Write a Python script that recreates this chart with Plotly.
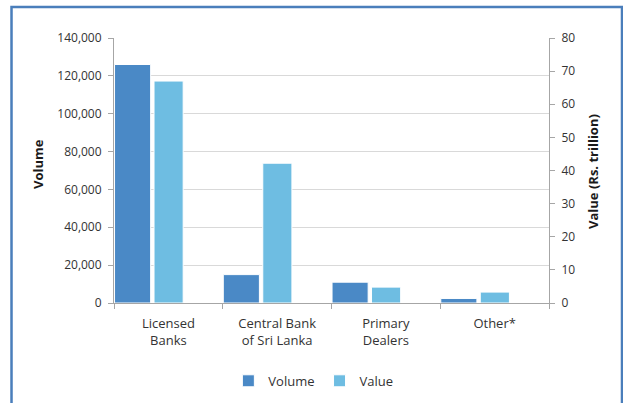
import plotly.graph_objects as go

# Participants in the settlement system
categories = ["Licensed<br>Banks", "Central Bank<br>of Sri Lanka", "Primary<br>Dealers", "Other*"]
volume = [126000, 15000, 11000, 2400]          # number of transactions
value_rs_trillion = [67.0, 42.2, 4.8, 3.3]     # Rs. trillion

volume_ticks = [0, 20000, 40000, 60000, 80000, 100000, 120000, 140000]
value_ticks = [0, 10, 20, 30, 40, 50, 60, 70, 80]

VOL_COLOR = "#4a89c6"
VAL_COLOR = "#6ebde2"
TEXT = "#333333"
AXIS = "#a6a6a6"
GRID = "#d9d9d9"
FONT = "Open Sans"

fig = go.Figure()
fig.add_trace(go.Bar(
    x=categories, y=volume, name="Volume",
    marker=dict(color=VOL_COLOR, line=dict(color="#ffffff", width=1)),
    offset=-0.495, width=0.332, yaxis="y",
))
fig.add_trace(go.Bar(
    x=categories, y=value_rs_trillion, name="Value",
    marker=dict(color=VAL_COLOR, line=dict(color="#ffffff", width=1)),
    offset=-0.132, width=0.268, yaxis="y2",
))

fig.update_layout(
    width=623, height=403,
    margin=dict(l=114, r=74, t=38, b=100, autoexpand=False),
    paper_bgcolor="white", plot_bgcolor="white",
    barmode="overlay",
    font=dict(family=FONT, size=12, color=TEXT),
    showlegend=True,
    legend=dict(
        orientation="h", xref="container", yref="container",
        x=0.503, xanchor="center", y=0.055, yanchor="middle",
        font=dict(family=FONT, size=13, color=TEXT),
        itemwidth=30, traceorder="normal",
    ),
    xaxis=dict(
        type="category", range=[-0.5, 3.5], automargin=False,
        showline=True, linecolor=AXIS, linewidth=1,
        ticks="outside", tickson="boundaries", ticklen=5, tickcolor=AXIS,
        ticklabelstandoff=8,
        tickfont=dict(family=FONT, size=13, color=TEXT),
        showgrid=False,
    ),
    yaxis=dict(
        range=[0, 140000], tickvals=volume_ticks, tickformat=",d", automargin=False,
        showline=True, linecolor=AXIS, linewidth=1,
        ticks="outside", ticklen=5, tickcolor=AXIS, ticklabelstandoff=4,
        showgrid=True, gridcolor=GRID, gridwidth=1, zeroline=False,
        tickfont=dict(family=FONT, size=12, color=TEXT),
    ),
    yaxis2=dict(
        range=[0, 80], tickvals=value_ticks, overlaying="y", side="right", automargin=False,
        showline=True, linecolor=AXIS, linewidth=1,
        ticks="outside", ticklen=5, tickcolor=AXIS, ticklabelstandoff=4,
        showgrid=False, zeroline=False,
        tickfont=dict(family=FONT, size=12, color=TEXT),
    ),
    annotations=[
        dict(text="<b>Volume</b>", xref="paper", yref="paper", x=-0.1747, y=0.5245,
             textangle=-90, showarrow=False, xanchor="center", yanchor="middle",
             font=dict(family=FONT, size=13, color="#1a1a1a")),
        dict(text="<b>Value (Rs. trillion)</b>", xref="paper", yref="paper", x=1.101, y=0.498,
             textangle=-90, showarrow=False, xanchor="center", yanchor="middle",
             font=dict(family=FONT, size=13, color="#1a1a1a")),
    ],
    shapes=[
        dict(type="rect", xref="paper", yref="paper", x0=-0.2356, x1=1.1678, y0=-0.5, y1=1.117,
             line=dict(color="#4a7ebb", width=2.5), fillcolor="rgba(0,0,0,0)", layer="below"),
    ],
)

fig.write_html("out.html")
